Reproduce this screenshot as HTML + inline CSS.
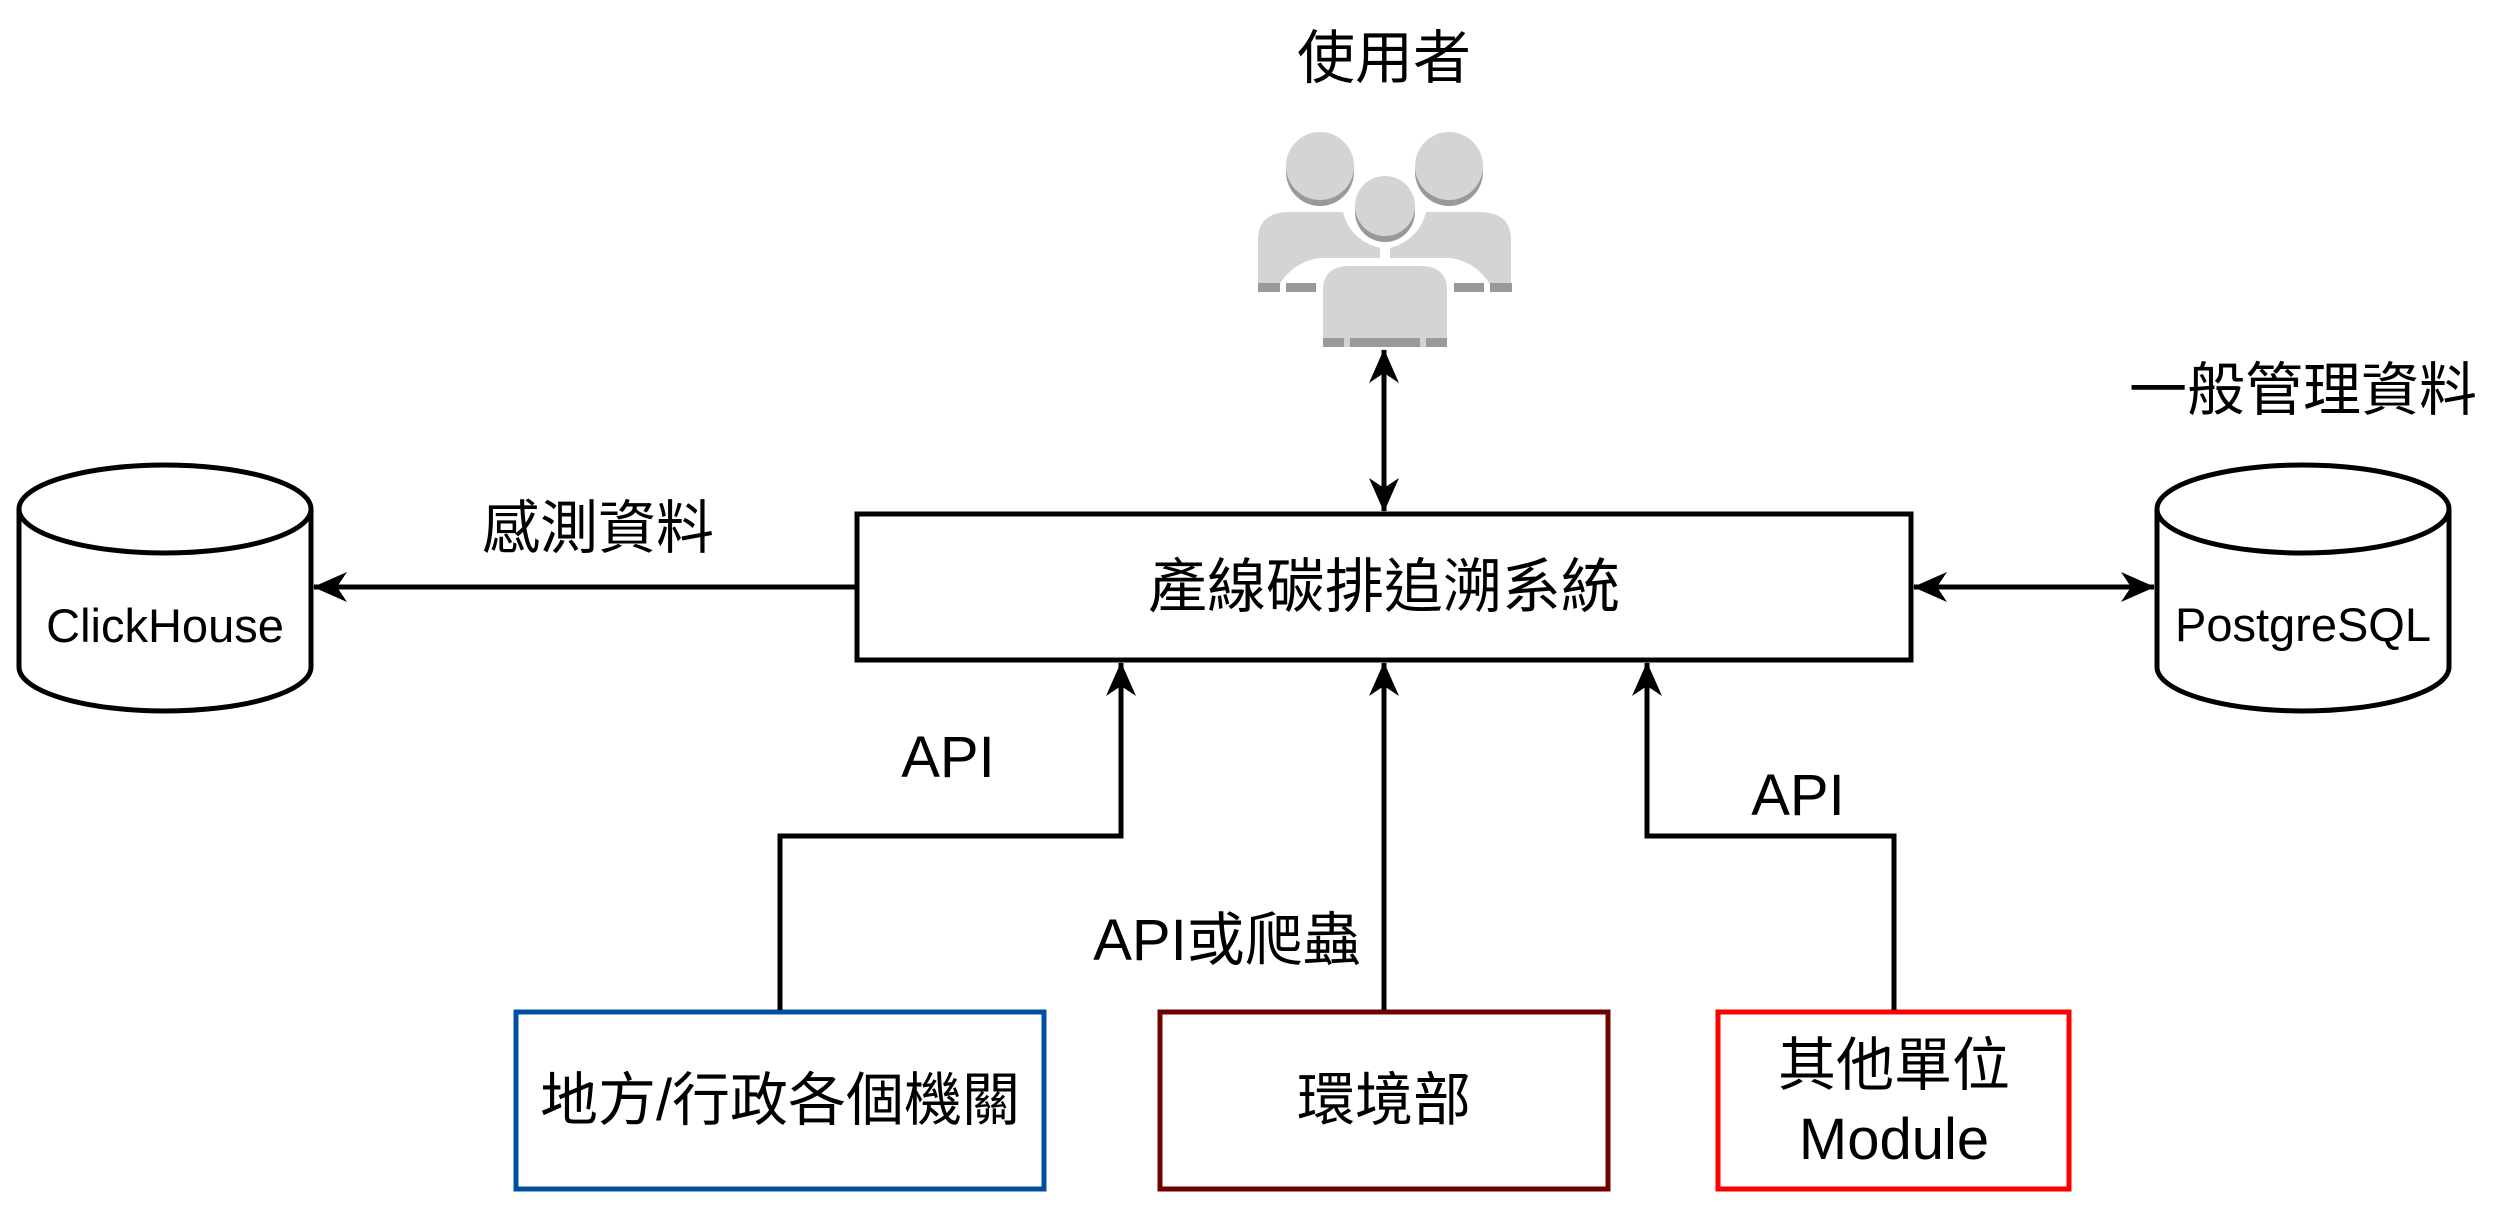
<!DOCTYPE html>
<html><head><meta charset="utf-8"><style>
html,body{margin:0;padding:0;background:#fff;width:2500px;height:1208px;overflow:hidden}
text{font-family:"Liberation Sans","Noto Sans CJK TC",sans-serif;fill:#000}
</style></head><body>
<svg width="2500" height="1208" viewBox="0 0 2500 1208" xmlns="http://www.w3.org/2000/svg">
<defs>
<marker id="a" viewBox="0 0 34 30" refX="33" refY="15" markerWidth="34" markerHeight="30" markerUnits="userSpaceOnUse" orient="auto-start-reverse">
<path d="M0,0 L34,15 L0,30 L10,15 Z" fill="#000"/>
</marker>
</defs>
<!-- users icon -->
<g>
<g fill="#999"><circle cx="1320" cy="172" r="34"/><circle cx="1449" cy="172" r="34"/></g>
<g fill="#d3d4d4"><circle cx="1320" cy="166" r="34"/><circle cx="1449" cy="166" r="34"/></g>
<path d="M1258,292 L1258,240 Q1258,212 1290,212 L1343,212 Q1350,240 1380,248 L1380,258 L1320,258 Q1290,262 1275,292 Z" fill="#d3d4d4"/>
<path d="M1511,292 L1511,240 Q1511,212 1479,212 L1426,212 Q1419,240 1390,248 L1390,258 L1450,258 Q1480,262 1494,292 Z" fill="#d3d4d4"/>
<rect x="1258" y="283" width="22" height="9" fill="#999"/><rect x="1286" y="283" width="30" height="9" fill="#999"/>
<rect x="1490" y="283" width="22" height="9" fill="#999"/><rect x="1454" y="283" width="30" height="9" fill="#999"/>
<circle cx="1385" cy="212" r="30" fill="#999"/><circle cx="1385" cy="206" r="30" fill="#d3d4d4"/>
<path d="M1323,347 L1323,290 Q1323,266 1350,266 L1420,266 Q1447,266 1447,290 L1447,347 Z" fill="#d3d4d4"/>
<rect x="1323" y="338" width="21" height="9" fill="#999"/><rect x="1350" y="338" width="70" height="9" fill="#999"/><rect x="1426" y="338" width="21" height="9" fill="#999"/>
</g>
<text x="1384" y="78" font-size="58" text-anchor="middle">使用者</text>
<line x1="1384" y1="350" x2="1384" y2="511" stroke="#000" stroke-width="5" marker-start="url(#a)" marker-end="url(#a)"/>
<!-- main box -->
<rect x="857" y="514" width="1054" height="146" fill="#fff" stroke="#000" stroke-width="5"/>
<text x="1384" y="607" font-size="59" text-anchor="middle">產線碳排追溯系統</text>
<!-- ClickHouse -->
<path d="M19,509 L19,667 A146,44 0 0 0 311,667 L311,509" fill="#fff" stroke="#000" stroke-width="5"/>
<ellipse cx="165" cy="509" rx="146" ry="44" fill="#fff" stroke="#000" stroke-width="5"/>
<text x="165" y="642" font-size="47" text-anchor="middle">ClickHouse</text>
<line x1="857" y1="587" x2="314" y2="587" stroke="#000" stroke-width="5" marker-end="url(#a)"/>
<text x="598" y="548" font-size="58" text-anchor="middle">感測資料</text>
<!-- PostgreSQL -->
<path d="M2157,509 L2157,667 A146,44 0 0 0 2449,667 L2449,509" fill="#fff" stroke="#000" stroke-width="5"/>
<ellipse cx="2303" cy="509" rx="146" ry="44" fill="#fff" stroke="#000" stroke-width="5"/>
<text x="2303" y="641" font-size="47" text-anchor="middle">PostgreSQL</text>
<text x="2303" y="410" font-size="58" text-anchor="middle">一般管理資料</text>
<line x1="1914" y1="587" x2="2154" y2="587" stroke="#000" stroke-width="5" marker-start="url(#a)" marker-end="url(#a)"/>
<!-- bottom boxes -->
<rect x="516" y="1012" width="528" height="177" fill="#fff" stroke="#0050a0" stroke-width="5"/>
<text x="780" y="1120" font-size="58" text-anchor="middle">地方/行政各個機關</text>
<rect x="1160" y="1012" width="448" height="177" fill="#fff" stroke="#6f0000" stroke-width="5"/>
<text x="1384" y="1120" font-size="58" text-anchor="middle">環境部</text>
<rect x="1718" y="1012" width="351" height="177" fill="#fff" stroke="#ff0000" stroke-width="5"/>
<text x="1894" y="1085" font-size="58" text-anchor="middle">其他單位</text>
<text x="1894" y="1159" font-size="58" text-anchor="middle">Module</text>
<!-- connectors -->
<polyline points="780,1010 780,836 1121,836 1121,663" fill="none" stroke="#000" stroke-width="5" marker-end="url(#a)"/>
<text x="948" y="777" font-size="58" text-anchor="middle">API</text>
<line x1="1384" y1="1010" x2="1384" y2="663" stroke="#000" stroke-width="5" marker-end="url(#a)"/>
<text x="1227" y="960" font-size="58" text-anchor="middle">API或爬蟲</text>
<polyline points="1894,1010 1894,836 1647,836 1647,663" fill="none" stroke="#000" stroke-width="5" marker-end="url(#a)"/>
<text x="1798" y="815" font-size="58" text-anchor="middle">API</text>
</svg>
</body></html>
